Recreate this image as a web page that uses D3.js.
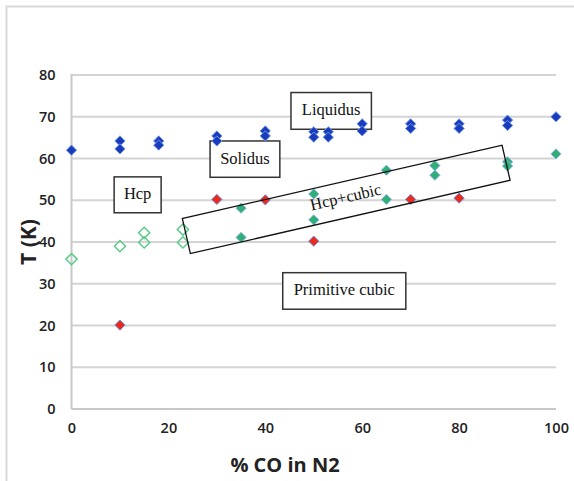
<!DOCTYPE html>
<html>
<head>
<meta charset="utf-8">
<script src="https://cdn.jsdelivr.net/npm/d3@7"></script>
<style>
html,body{margin:0;padding:0;background:#fff;}
svg{display:block;}
</style>
</head>
<body>
<script>
// ---- data ----
const xTicks = [0, 20, 40, 60, 80, 100];
const yTicks = [0, 10, 20, 30, 40, 50, 60, 70, 80];

// Liquidus (blue filled diamonds)
const liqX = [0, 10, 10, 18, 18, 30, 30, 40, 40, 50, 50, 53, 53, 60, 60, 70, 70, 80, 80, 90, 90, 100];
const liqY = [62, 64.2, 62.3, 64.2, 63.2, 65.4, 64.2, 66.6, 65.4, 66.4, 65.1, 66.4, 65.1, 68.3, 66.6, 68.3, 67.2, 68.3, 67.2, 69.2, 67.9, 70];

// Cubic (green filled diamonds)
const cubX = [35, 35, 50, 50, 65, 65, 75, 75, 90, 90, 100];
const cubY = [48.1, 41.1, 51.5, 45.3, 57.2, 50.2, 58.3, 56, 59.2, 58.2, 61.1];

// Solidus (red filled diamonds)
const solX = [10, 30, 40, 50, 70, 80];
const solY = [20.1, 50.2, 50.1, 40.2, 50.2, 50.5];

// Hcp (hollow green diamonds)
const hcpX = [0, 10, 15, 15, 23, 23];
const hcpY = [35.9, 39, 42.2, 39.9, 43, 39.9];

const boxLabels = ["Liquidus", "Solidus", "Hcp", "Primitive cubic", "Hcp+cubic"];

// ---- layout ----
const W = 574, H = 481;
const svg = d3.select("body").append("svg").attr("width", W).attr("height", H);

const x = d3.scaleLinear().domain([0, 100]).range([71.5, 556]);
const y = d3.scaleLinear().domain([0, 80]).range([409, 75]);

// outer frame
svg.append("line").attr("x1", 6).attr("x2", W).attr("y1", 6.5).attr("y2", 6.5)
  .attr("stroke", "#d9d9d9").attr("stroke-width", 2);
svg.append("line").attr("x1", 6.5).attr("x2", 6.5).attr("y1", 6).attr("y2", H)
  .attr("stroke", "#d9d9d9").attr("stroke-width", 2);

// gridlines
const grid = svg.append("g");
grid.selectAll("line").data(yTicks.filter(d => d > 0)).join("line")
  .attr("x1", x(0)).attr("x2", x(100))
  .attr("y1", d => y(d)).attr("y2", d => y(d))
  .attr("stroke", "#d4d4d4").attr("stroke-width", 2);

// axes lines
svg.append("line").attr("x1", x(0)).attr("x2", x(0)).attr("y1", y(80) - 1).attr("y2", y(0))
  .attr("stroke", "#c8c8c8").attr("stroke-width", 2);
svg.append("line").attr("x1", x(0)).attr("x2", x(100)).attr("y1", y(0)).attr("y2", y(0))
  .attr("stroke", "#c8c8c8").attr("stroke-width", 2);

// tick labels via d3 axes (domain/ticks hidden)
const yAxis = svg.append("g").attr("transform", `translate(${x(0)},0)`)
  .call(d3.axisLeft(y).tickValues(yTicks).tickSize(0).tickPadding(16).tickFormat(d3.format("d")));
yAxis.select(".domain").remove();
yAxis.selectAll("text").attr("font-family", "'Open Sans', sans-serif").attr("font-weight", 600)
  .attr("font-size", 14.5).attr("fill", "#222");

const xAxis = svg.append("g").attr("transform", `translate(0,${y(0)})`)
  .call(d3.axisBottom(x).tickValues(xTicks).tickSize(0).tickPadding(14).tickFormat(d3.format("d")));
xAxis.select(".domain").remove();
xAxis.selectAll("text").attr("font-family", "'Open Sans', sans-serif").attr("font-weight", 600)
  .attr("font-size", 14.5).attr("fill", "#222");

// axis titles
svg.append("text").attr("x", 285).attr("y", 472).attr("text-anchor", "middle")
  .attr("font-family", "'Open Sans', sans-serif").attr("font-weight", 700)
  .attr("font-size", 20).attr("fill", "#222").text("% CO in N2");
svg.append("text").attr("transform", "translate(36,242) rotate(-90)").attr("text-anchor", "middle")
  .attr("font-family", "'Open Sans', sans-serif").attr("font-weight", 700)
  .attr("font-size", 21).attr("fill", "#222").text("T (K)");

// white-filled label boxes (positions in data coordinates)
const boxes = [
  {label: boxLabels[0], x0: 45.3, x1: 61.9, y0: 75.8, y1: 67.0},
  {label: boxLabels[1], x0: 28.6, x1: 43, y0: 64.2, y1: 55.5},
  {label: boxLabels[2], x0: 8.8, x1: 18.5, y0: 55.6, y1: 47.0},
  {label: boxLabels[3], x0: 43.6, x1: 69, y0: 32.65, y1: 23.9}
];
const bg = svg.append("g");
bg.selectAll("rect").data(boxes).join("rect")
  .attr("x", d => x(d.x0)).attr("y", d => y(d.y0))
  .attr("width", d => x(d.x1) - x(d.x0)).attr("height", d => y(d.y1) - y(d.y0))
  .attr("fill", "#fff").attr("stroke", "#333").attr("stroke-width", 1.5);
bg.selectAll("text").data(boxes).join("text")
  .attr("x", d => (x(d.x0) + x(d.x1)) / 2).attr("y", d => (y(d.y0) + y(d.y1)) / 2 + 4.5)
  .attr("text-anchor", "middle").attr("font-family", "'Liberation Serif', serif")
  .attr("font-size", 16.5).attr("fill", "#111").text(d => d.label);

// markers
const diamond = {draw(ctx, size) { const r = Math.sqrt(size) / 2; ctx.moveTo(0, -r); ctx.lineTo(r, 0); ctx.lineTo(0, r); ctx.lineTo(-r, 0); ctx.closePath(); }};
function series(xs, ys, size, fill, stroke, sw) {
  svg.append("g").selectAll("path").data(xs.map((v, i) => [v, ys[i]])).join("path")
    .attr("transform", d => `translate(${x(d[0])},${y(d[1])})`)
    .attr("d", d3.symbol().type(diamond).size(size))
    .attr("fill", fill).attr("stroke", stroke).attr("stroke-width", sw);
}
series(hcpX, hcpY, 125, "none", "#5ccc8a", 1.5);
series(solX, solY, 105, "#ec2a1c", "#6d8fe0", 1);
series(cubX, cubY, 105, "#2fae76", "#8fb5ea", 1);
series(liqX, liqY, 105, "#1a3cbc", "#6e98e6", 1);

// rotated Hcp+cubic box (center in data coords)
const rc = {cx: 56.7, cy: 50.2, w: 328, h: 36, angle: -12.9};
const rg = svg.append("g").attr("transform", `translate(${x(rc.cx)},${y(rc.cy)}) rotate(${rc.angle})`);
rg.append("rect").attr("x", -rc.w / 2).attr("y", -rc.h / 2).attr("width", rc.w).attr("height", rc.h)
  .attr("fill", "none").attr("stroke", "#111").attr("stroke-width", 1.3);
rg.append("text").attr("x", 0).attr("y", 3).attr("text-anchor", "middle")
  .attr("font-family", "'Liberation Serif', serif").attr("font-size", 16.5).attr("fill", "#111")
  .text(boxLabels[4]);
</script>
</body>
</html>
